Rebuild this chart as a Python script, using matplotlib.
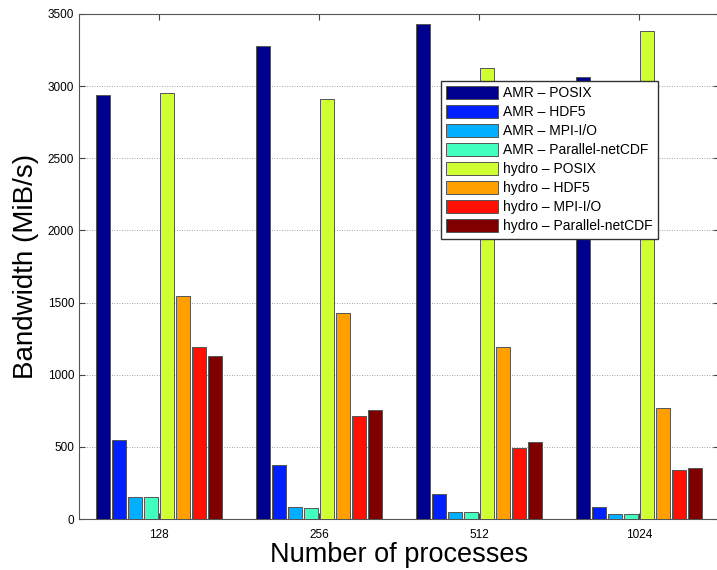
import numpy as np
import matplotlib
matplotlib.use('Agg')
import matplotlib.pyplot as plt

# Datos (MiB/s)
procesos = ['128', '256', '512', '1024']
series = ['AMR – POSIX', 'AMR – HDF5', 'AMR – MPI-I/O', 'AMR – Parallel-netCDF',
          'hydro – POSIX', 'hydro – HDF5', 'hydro – MPI-I/O', 'hydro – Parallel-netCDF']

amr_posix = [2940, 3280, 3430, 3065]
amr_hdf5 = [550, 376, 172, 85]
amr_mpiio = [155, 80, 48, 32]
amr_pnetcdf = [150, 76, 48, 32]
hydro_posix = [2950, 2910, 3125, 3380]
hydro_hdf5 = [1545, 1425, 1195, 771]
hydro_mpiio = [1190, 716, 491, 337]
hydro_pnetcdf = [1130, 752, 537, 353]

valores = [amr_posix, amr_hdf5, amr_mpiio, amr_pnetcdf,
           hydro_posix, hydro_hdf5, hydro_mpiio, hydro_pnetcdf]

# colores tipo jet de Matlab
colores = [(0, 0, 0.5625), (0, 0.125, 1), (0, 0.6875, 1), (0.25, 1, 0.75),
           (0.8125, 1, 0.1875), (1, 0.625, 0), (1, 0.0625, 0), (0.5, 0, 0)]

plt.rcParams['font.family'] = ['Liberation Sans', 'DejaVu Sans']

fig = plt.figure(figsize=(7.17, 5.70), dpi=100)
ax = fig.add_axes([79 / 717, 51 / 570, 640 / 717, 505 / 570])

x = np.arange(1, len(procesos) + 1)
n = len(series)
paso = 0.1
for i, (nombre, vals, col) in enumerate(zip(series, valores, colores)):
    desplaz = (i - (n - 1) / 2) * paso
    ax.bar(x + desplaz, vals, width=0.085, color=col, edgecolor='#555555',
           linewidth=0.7, label=nombre, zorder=3)

ax.set_xlim(0.5, 4.5)
ax.set_ylim(0, 3500)
ax.set_xticks(x)
ax.set_xticklabels(procesos)
ax.set_yticks(np.arange(0, 3501, 500))
ax.tick_params(direction='in', labelsize=8.5, top=True, right=True, length=4,
               color='#444444')
ax.tick_params(axis='x', pad=7)
ax.yaxis.grid(True, linestyle=(0, (1, 2)), color='#888888', linewidth=0.6, zorder=0)

for s in ax.spines.values():
    s.set_color('#555555')
    s.set_linewidth(0.8)

ax.set_xlabel('Number of processes', fontsize=19.5, labelpad=1)
ax.set_ylabel('Bandwidth (MiB/s)', fontsize=20, labelpad=6)

ax.legend(loc='upper left', bbox_to_anchor=(441 / 717, 1 - 81 / 570),
          bbox_transform=fig.transFigure, borderaxespad=0, fontsize=10,
          frameon=True, fancybox=False, edgecolor='#333333', framealpha=1,
          handlelength=3.7, handleheight=1.0, labelspacing=0.36,
          handletextpad=0.4, borderpad=0.38)

fig.savefig('out.png', dpi=100)
